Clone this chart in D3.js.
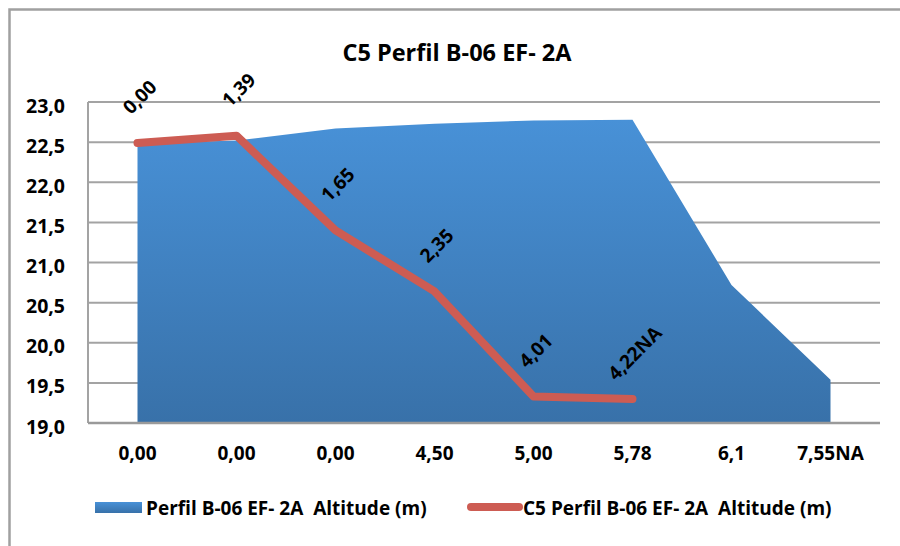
<!DOCTYPE html>
<html>
<head>
<meta charset="utf-8">
<script src="https://cdn.jsdelivr.net/npm/d3@7"></script>
<style>
  html, body { margin: 0; padding: 0; background: #fff; }
  svg { display: block; }
  text { font-family: "Open Sans", Lato, sans-serif; font-weight: bold; fill: #000; white-space: pre; }
</style>
</head>
<body>
<svg id="chart" width="900" height="546"></svg>
<script>
// ---- data ----
const categories = ["0,00", "0,00", "0,00", "4,50", "5,00", "5,78", "6,1", "7,55NA"];
const profileAltitude = [22.48, 22.52, 22.67, 22.73, 22.77, 22.78, 20.72, 19.54];
const c5Altitude = [22.49, 22.58, 21.40, 20.64, 19.33, 19.30];
const c5Labels = ["0,00", "1,39", "1,65", "2,35", "4,01", "4,22NA"];
const yTicks = [19.0, 19.5, 20.0, 20.5, 21.0, 21.5, 22.0, 22.5, 23.0];
const title = "C5 Perfil B-06 EF- 2A";
const seriesNames = ["Perfil B-06 EF- 2A  Altitude (m)", "C5 Perfil B-06 EF- 2A  Altitude (m)"];

const svg = d3.select("#chart");
const W = 900, H = 546;
const plot = { left: 88, right: 880, top: 102, bottom: 423 };
const FS = "19px";

// outer frame
svg.append("rect").attr("x", 9.5).attr("y", 9.5).attr("width", W).attr("height", H)
  .attr("fill", "none").attr("stroke", "#a0a0a0").attr("stroke-width", 2.5);

const x = d3.scaleBand().domain(d3.range(categories.length)).range([plot.left, plot.right]).padding(0);
const cx = i => x(i) + x.bandwidth() / 2;
const y = d3.scaleLinear().domain([19, 23]).range([plot.bottom, plot.top]);

// gradient
const defs = svg.append("defs");
const grad = defs.append("linearGradient").attr("id", "blueGrad")
  .attr("x1", 0).attr("y1", 0).attr("x2", 0).attr("y2", 1);
grad.append("stop").attr("offset", "0%").attr("stop-color", "#4891d7");
grad.append("stop").attr("offset", "100%").attr("stop-color", "#3871a9");

// gridlines
svg.append("g").selectAll("line").data(yTicks).join("line")
  .attr("x1", plot.left).attr("x2", plot.right)
  .attr("y1", d => y(d)).attr("y2", d => y(d))
  .attr("stroke", "#a3a3a3").attr("stroke-width", 2);

// left axis line
svg.append("line").attr("x1", plot.left).attr("x2", plot.left)
  .attr("y1", plot.top).attr("y2", plot.bottom)
  .attr("stroke", "#a3a3a3").attr("stroke-width", 2);

// area
const area = d3.area().x((d, i) => cx(i)).y0(y(19)).y1(d => y(d)).curve(d3.curveLinear);
svg.append("path").datum(profileAltitude).attr("d", area).attr("fill", "url(#blueGrad)");

// bottom axis line
svg.append("line").attr("x1", plot.left).attr("x2", plot.right)
  .attr("y1", plot.bottom).attr("y2", plot.bottom)
  .attr("stroke", "#9a9a9a").attr("stroke-width", 2.5);

// red line
const line = d3.line().x((d, i) => cx(i)).y(d => y(d));
svg.append("path").datum(c5Altitude).attr("d", line)
  .attr("fill", "none").attr("stroke", "#cd5c53").attr("stroke-width", 8)
  .attr("stroke-linejoin", "round").attr("stroke-linecap", "round");

// data labels
svg.append("g").selectAll("text").data(c5Altitude).join("text")
  .attr("transform", (d, i) => `translate(${cx(i) + 2},${y(d) - 46}) rotate(-45)`)
  .attr("text-anchor", "middle").attr("dominant-baseline", "central")
  .style("font-size", FS)
  .text((d, i) => c5Labels[i]);

// y labels
svg.append("g").selectAll("text").data(yTicks).join("text")
  .attr("x", 65).attr("y", d => y(d) + 3)
  .attr("text-anchor", "end").attr("dominant-baseline", "central")
  .style("font-size", "19.5px")
  .text(d => d.toFixed(1).replace(".", ","));

// x labels
svg.append("g").selectAll("text").data(categories).join("text")
  .attr("x", (d, i) => cx(i)).attr("y", 453)
  .attr("text-anchor", "middle").attr("dominant-baseline", "central")
  .style("font-size", FS)
  .text(d => d);

// title
svg.append("text").attr("x", 457).attr("y", 52)
  .attr("text-anchor", "middle").attr("dominant-baseline", "central")
  .style("font-size", "23.5px").text(title);

// legend
const lg = svg.append("g");
lg.append("rect").attr("x", 95).attr("y", 502).attr("width", 47).attr("height", 11)
  .attr("fill", "url(#blueGrad)");
lg.append("text").attr("x", 146).attr("y", 508).attr("dominant-baseline", "central")
  .style("font-size", FS).text(seriesNames[0]);
lg.append("line").attr("x1", 471).attr("x2", 519).attr("y1", 507).attr("y2", 507)
  .attr("stroke", "#cd5c53").attr("stroke-width", 8).attr("stroke-linecap", "round");
lg.append("text").attr("x", 523).attr("y", 508).attr("dominant-baseline", "central")
  .style("font-size", FS).text(seriesNames[1]);
</script>
</body>
</html>
